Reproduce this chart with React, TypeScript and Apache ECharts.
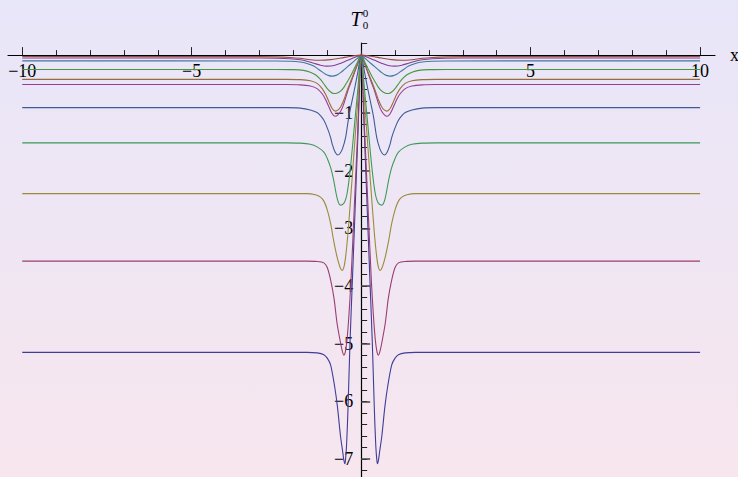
import React, { useEffect, useRef } from "react";
import * as echarts from "echarts";

// Right half (x >= 0) of each curve; curves are symmetric in x.
const curve1 = [[0,0],[0.1,-1.45],[0.2,-3.0],[0.27,-4.07],[0.33,-5.0],[0.39,-6.15],[0.43,-6.75],[0.46,-7.0],[0.48,-7.08],[0.51,-7.02],[0.55,-6.85],[0.61,-6.6],[0.7,-6.09],[0.78,-5.75],[0.9,-5.37],[1.0,-5.25],[1.1,-5.19],[1.3,-5.16],[1.6,-5.15],[10,-5.15]];
const curve2 = [[0,0],[0.1,-1.3],[0.2,-2.6],[0.3,-3.9],[0.36,-4.5],[0.42,-4.95],[0.47,-5.15],[0.51,-5.2],[0.56,-5.12],[0.62,-4.95],[0.71,-4.65],[0.8,-4.22],[0.9,-3.9],[1.0,-3.68],[1.1,-3.6],[1.3,-3.575],[1.6,-3.57],[10,-3.57]];
const curve3 = [[0,0],[0.1,-0.8],[0.2,-1.6],[0.3,-2.4],[0.39,-3.09],[0.45,-3.45],[0.5,-3.65],[0.56,-3.73],[0.62,-3.68],[0.71,-3.5],[0.81,-3.22],[0.9,-2.92],[1.0,-2.68],[1.1,-2.53],[1.2,-2.46],[1.35,-2.42],[1.6,-2.4],[10,-2.4]];
const curve4 = [[0,0],[0.1,-0.6],[0.2,-1.23],[0.315,-1.94],[0.41,-2.38],[0.5,-2.56],[0.61,-2.6],[0.7,-2.5],[0.81,-2.17],[0.9,-1.95],[1.0,-1.79],[1.1,-1.68],[1.3,-1.59],[1.5,-1.545],[1.8,-1.525],[2.2,-1.52],[10,-1.52]];
const curve5 = [[0,0],[0.1,-0.3],[0.2,-0.6],[0.3,-0.88],[0.365,-1.07],[0.46,-1.43],[0.55,-1.62],[0.62,-1.7],[0.69,-1.73],[0.77,-1.68],[0.85,-1.55],[0.905,-1.42],[1.0,-1.26],[1.1,-1.13],[1.2,-1.05],[1.3,-0.995],[1.5,-0.95],[1.8,-0.918],[2.2,-0.91],[10,-0.91]];
const curve6 = [[0,0],[0.1,-0.15],[0.2,-0.31],[0.3,-0.47],[0.4,-0.63],[0.51,-0.84],[0.6,-0.97],[0.68,-1.03],[0.76,-1.06],[0.85,-1.02],[0.95,-0.9],[1.05,-0.77],[1.15,-0.67],[1.3,-0.58],[1.5,-0.535],[1.8,-0.515],[2.2,-0.51],[10,-0.51]];
const curve7 = [[0,0],[0.1,-0.14],[0.2,-0.29],[0.3,-0.44],[0.4,-0.59],[0.5,-0.76],[0.6,-0.89],[0.68,-0.95],[0.76,-0.97],[0.85,-0.93],[0.95,-0.81],[1.05,-0.68],[1.15,-0.58],[1.3,-0.49],[1.5,-0.445],[1.8,-0.425],[2.2,-0.42],[10,-0.42]];
const curve8 = [[0,0],[0.1,-0.11],[0.2,-0.23],[0.3,-0.35],[0.41,-0.46],[0.5,-0.55],[0.6,-0.62],[0.7,-0.655],[0.81,-0.665],[0.9,-0.64],[1.0,-0.58],[1.1,-0.5],[1.2,-0.42],[1.35,-0.34],[1.5,-0.295],[1.7,-0.265],[2.0,-0.252],[2.5,-0.248],[10,-0.248]];
const curve9 = [[0,0],[0.1,-0.05],[0.2,-0.1],[0.3,-0.15],[0.4,-0.2],[0.5,-0.25],[0.6,-0.3],[0.7,-0.34],[0.8,-0.36],[0.87,-0.364],[0.95,-0.355],[1.05,-0.33],[1.15,-0.29],[1.25,-0.25],[1.4,-0.19],[1.6,-0.145],[1.8,-0.12],[2.1,-0.106],[2.5,-0.101],[10,-0.1]];
const curve10 = [[0,0],[0.2,-0.04],[0.4,-0.09],[0.6,-0.14],[0.8,-0.18],[1.0,-0.19],[1.2,-0.175],[1.4,-0.14],[1.6,-0.105],[1.8,-0.08],[2.1,-0.062],[2.5,-0.053],[3,-0.05],[10,-0.05]];
const curve11 = [[0,0],[0.3,-0.02],[0.6,-0.05],[0.9,-0.078],[1.2,-0.09],[1.5,-0.08],[1.8,-0.055],[2.1,-0.04],[2.5,-0.03],[3,-0.026],[10,-0.025]];

const CURVES = [curve1, curve2, curve3, curve4, curve5, curve6, curve7, curve8, curve9, curve10, curve11];
const COLORS = ["#3F3D99", "#993D71", "#998B3D", "#3D9956", "#3D5A99", "#993D90", "#996C3D", "#44993D", "#3D7999", "#833D99", "#994E3D"];

const X_MINOR_TICKS = [-10,-9,-8,-7,-6,-5,-4,-3,-2,-1,0,1,2,3,4,5,6,7,8,9,10];
const X_MAJOR_TICKS = [-10,-5,5,10];
const X_LABELS = [-10,-5,5,10];
const Y_MINOR_TICKS = [-7.2,-7,-6.8,-6.6,-6.4,-6.2,-6,-5.8,-5.6,-5.4,-5.2,-5,-4.8,-4.6,-4.4,-4.2,-4,-3.8,-3.6,-3.4,-3.2,-3,-2.8,-2.6,-2.4,-2.2,-2,-1.8,-1.6,-1.4,-1.2,-1,-0.8,-0.6,-0.4,-0.2,0.2];
const Y_MAJOR_TICKS = [-7,-6,-5,-4,-3,-2,-1];
const Y_LABELS = [-7,-6,-5,-4,-3,-2,-1];

const SERIF = '"Liberation Serif", "DejaVu Serif", serif';

function mirror(half: number[][]) {
  const left = half.filter((p) => p[0] > 0).map((p) => [-p[0], p[1]]).reverse();
  return left.concat(half);
}

const fmt = (v: number) => (v < 0 ? "\u2212" + Math.abs(v) : String(v));

// plot area
const GRID = { left: 8, right: 23, top: 43, bottom: 0 };
const W = 738, H = 477;
const X_MIN = -10.42, X_MAX = 10.44;
const Y_MIN = -7.31, Y_MAX = 0.21;

export default function App() {
  const ref = useRef<HTMLDivElement>(null);
  useEffect(() => {
    if (!ref.current) return;
    const chart = echarts.init(ref.current, null, { renderer: "svg" });
    const gw = W - GRID.left - GRID.right;
    const gh = H - GRID.top - GRID.bottom;
    // offsets that move the axes onto the zero lines
    const xOffset = -((0 - Y_MIN) / (Y_MAX - Y_MIN)) * gh;
    const yOffset = -((0 - X_MIN) / (X_MAX - X_MIN)) * gw;
    const xRange = { min: X_MIN, max: X_MAX };
    const yRange = { min: Y_MIN, max: Y_MAX };
    chart.setOption({
      animation: false,
      backgroundColor: "transparent",
      grid: { ...GRID, containLabel: false, outerBoundsMode: "none" },
      xAxis: [
        {
          type: "value", ...xRange, position: "bottom", offset: xOffset,
          axisLine: { show: true, onZero: false, lineStyle: { color: "#000", width: 1.2 } },
          axisTick: { show: true, inside: true, length: 5, customValues: X_MINOR_TICKS, lineStyle: { color: "#222", width: 1 } },
          axisLabel: { show: true, customValues: X_LABELS, formatter: fmt, fontFamily: SERIF, fontSize: 18, color: "#000", margin: 7, hideOverlap: false },
          splitLine: { show: false },
          name: "x", nameLocation: "end", nameGap: 15,
          nameTextStyle: { fontFamily: SERIF, fontSize: 18, color: "#000", verticalAlign: "middle", align: "left" },
        },
        {
          type: "value", ...xRange, position: "bottom", offset: xOffset,
          axisLine: { show: false, onZero: false },
          axisTick: { show: true, inside: true, length: 8, customValues: X_MAJOR_TICKS, lineStyle: { color: "#222", width: 1 } },
          axisLabel: { show: false },
          splitLine: { show: false },
        },
      ],
      yAxis: [
        {
          type: "value", ...yRange, position: "left", offset: yOffset,
          axisLine: { show: true, onZero: false, lineStyle: { color: "#000", width: 1.2 } },
          axisTick: { show: true, inside: true, length: 6, customValues: Y_MINOR_TICKS, lineStyle: { color: "#222", width: 1 } },
          axisLabel: { show: true, customValues: Y_LABELS, formatter: fmt, fontFamily: SERIF, fontSize: 18, color: "#000", margin: 8, hideOverlap: false },
          splitLine: { show: false },
        },
        {
          type: "value", ...yRange, position: "left", offset: yOffset,
          axisLine: { show: false, onZero: false },
          axisTick: { show: true, inside: true, length: 9, customValues: Y_MAJOR_TICKS, lineStyle: { color: "#444", width: 1.5 } },
          axisLabel: { show: false },
          splitLine: { show: false },
        },
      ],
      graphic: [
        { type: "text", x: 356, y: 19, style: { text: "T", font: 'italic 20px "Liberation Serif"', fill: "#000", align: "center", verticalAlign: "middle", textAlign: "center", textVerticalAlign: "middle" } },
        { type: "text", x: 365.5, y: 12.5, style: { text: "0", font: '11px "Liberation Serif"', fill: "#000", align: "center", verticalAlign: "middle", textAlign: "center", textVerticalAlign: "middle" } },
        { type: "text", x: 365.5, y: 24.5, style: { text: "0", font: '11px "Liberation Serif"', fill: "#000", align: "center", verticalAlign: "middle", textAlign: "center", textVerticalAlign: "middle" } },
      ],
      series: CURVES.map((c, i) => ({
        type: "line",
        xAxisIndex: 0,
        yAxisIndex: 0,
        data: mirror(c),
        showSymbol: false,
        symbol: "none",
        smooth: 0.3,
        lineStyle: { color: COLORS[i], width: 1.1 },
        z: 2 + i,
      })),
    });
    return () => chart.dispose();
  }, []);
  return (
    <div
      ref={ref}
      style={{
        position: "fixed",
        left: 0,
        top: 0,
        width: W,
        height: H,
        background: "linear-gradient(to bottom, #E8E6F9 0%, #F7E6EE 100%)",
      }}
    />
  );
}
